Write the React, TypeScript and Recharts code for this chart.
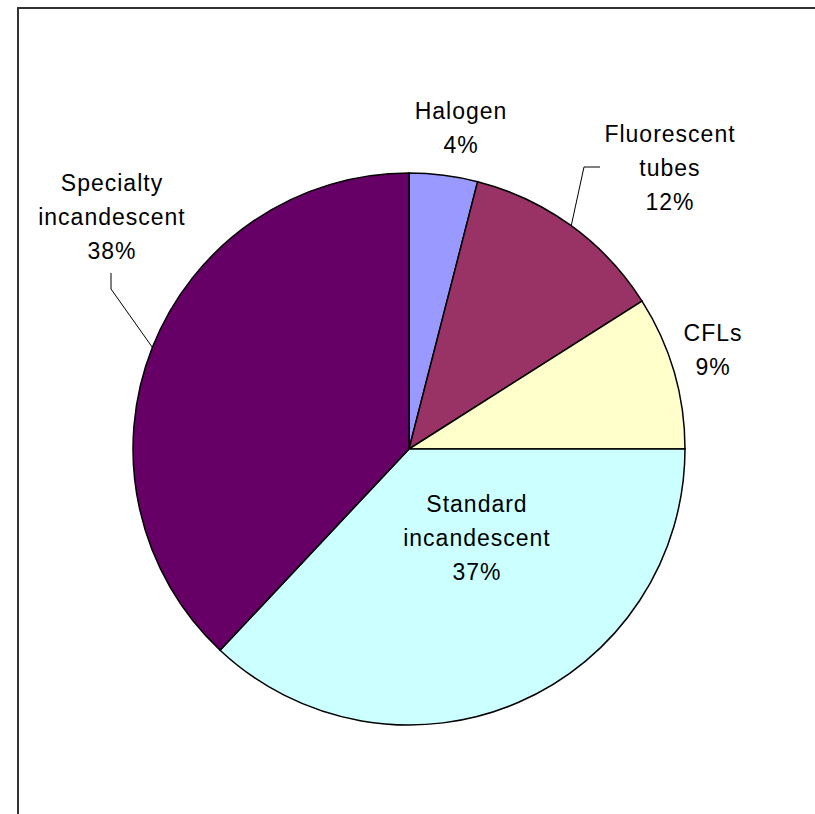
import React from "react";
import { PieChart, Pie, Cell } from "recharts";

// Lighting energy use by lamp type (share of total, %)
const lampTypes = [
  "Halogen",
  "Fluorescent tubes",
  "CFLs",
  "Standard incandescent",
  "Specialty incandescent",
];
const shares = [4, 12, 9, 37, 38];
const sliceColors = ["#9999FF", "#993366", "#FFFFCC", "#CCFFFF", "#660066"];

// Label text lines per slice (the percentage line is appended from the value)
const labelLines: string[][] = [
  ["Halogen"],
  ["Fluorescent", "tubes"],
  ["CFLs"],
  ["Standard", "incandescent"],
  ["Specialty", "incandescent"],
];

// Label placement relative to the pie centre: text centre x and first baseline y.
// Optional leader: elbow point and end point, also relative to the centre.
type Placement = {
  dx: number;
  dy: number;
  leader?: { elbow: [number, number]; end: [number, number] };
};
const placements: Placement[] = [
  { dx: 52, dy: -330 },
  { dx: 261, dy: -307, leader: { elbow: [175, -282], end: [191, -282] } },
  { dx: 304, dy: -108 },
  { dx: 68, dy: 63 },
  { dx: -297, dy: -258, leader: { elbow: [-298, -160], end: [-298, -176] } },
];

const LINE_HEIGHT = 34;
const RAD = Math.PI / 180;

const data = lampTypes.map((name, i) => ({ name, value: shares[i] }));

const renderLabel = (props: any) => {
  const { cx, cy, midAngle, outerRadius, index, value } = props;
  const place = placements[index];
  const lines = [...labelLines[index], `${value}%`];
  const tx = cx + place.dx;
  const ty = cy + place.dy;
  let leader: React.ReactNode = null;
  if (place.leader) {
    const sx = cx + outerRadius * Math.cos(-midAngle * RAD);
    const sy = cy + outerRadius * Math.sin(-midAngle * RAD);
    const ex = cx + place.leader.elbow[0];
    const ey = cy + place.leader.elbow[1];
    const fx = cx + place.leader.end[0];
    const fy = cy + place.leader.end[1];
    leader = (
      <polyline
        points={`${sx},${sy} ${ex},${ey} ${fx},${fy}`}
        fill="none"
        stroke="#000"
        strokeWidth={1}
      />
    );
  }
  return (
    <g key={`label-${index}`}>
      {leader}
      <text
        x={tx}
        y={ty}
        textAnchor="middle"
        fill="#000"
        fontFamily="'Liberation Sans', Arial, sans-serif"
        fontSize={23}
        letterSpacing={1}
      >
        {lines.map((line, i) => (
          <tspan key={i} x={tx} y={ty + i * LINE_HEIGHT}>
            {line}
          </tspan>
        ))}
      </text>
    </g>
  );
};

export default function App() {
  return (
    <div
      style={{
        position: "fixed",
        left: 0,
        top: 0,
        width: 815,
        height: 814,
        overflow: "hidden",
        background: "#fff",
      }}
    >
      {/* chart-area frame: only its top and left edges fall inside the view */}
      <div
        style={{
          position: "absolute",
          left: 17,
          top: 7,
          width: 900,
          height: 900,
          borderTop: "2px solid #333",
          borderLeft: "2px solid #333",
          boxSizing: "border-box",
        }}
      />
      <div style={{ position: "absolute", left: 0, top: 0 }}>
        <PieChart
          width={815}
          height={814}
          margin={{ top: 0, right: 0, bottom: 0, left: 0 }}
        >
          <Pie
            data={data}
            dataKey="value"
            nameKey="name"
            cx={409}
            cy={449}
            outerRadius={276}
            startAngle={90}
            endAngle={-270}
            stroke="#000"
            strokeWidth={1.5}
            label={renderLabel}
            labelLine={false}
            isAnimationActive={false}
          >
            {data.map((d, i) => (
              <Cell key={d.name} fill={sliceColors[i]} />
            ))}
          </Pie>
        </PieChart>
      </div>
    </div>
  );
}
